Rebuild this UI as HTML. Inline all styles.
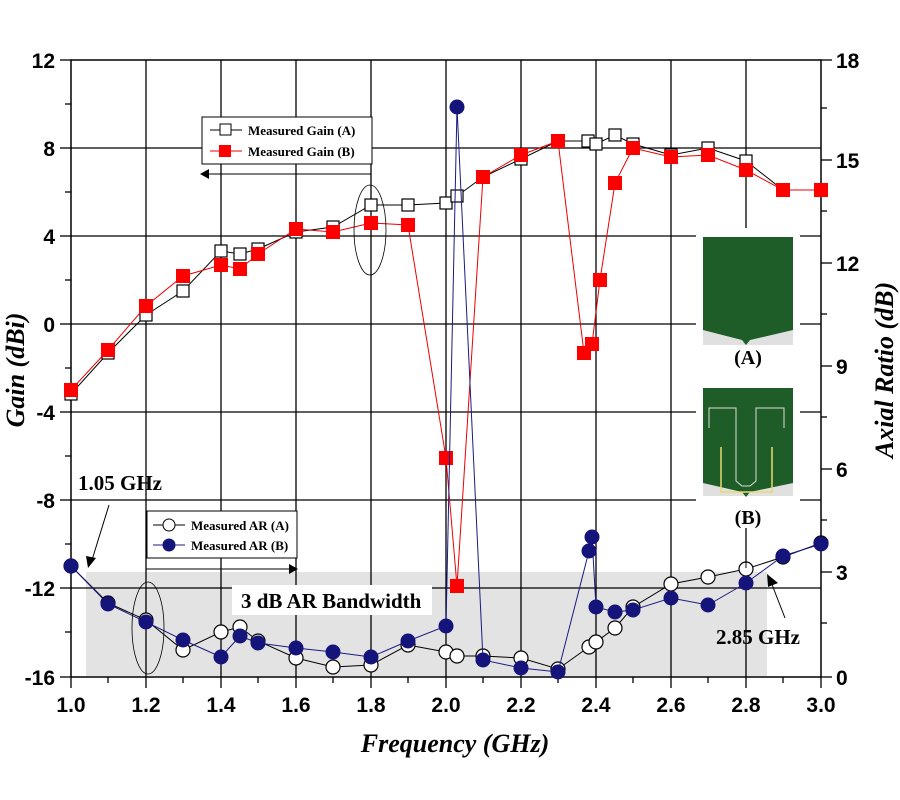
<!DOCTYPE html>
<html><head><meta charset="utf-8"><style>
html,body{margin:0;padding:0;background:#fff;}
svg{display:block;font-family:"Liberation Serif",serif;}
.t{font-family:"Liberation Sans",sans-serif;font-weight:bold;font-size:21px;}
</style></head><body>
<svg width="900" height="800" viewBox="0 0 900 800" xmlns="http://www.w3.org/2000/svg">
<rect x="86" y="572" width="681" height="104" fill="#e3e3e3"/>
<g stroke="#000" stroke-width="1.3">
<line x1="146" y1="60" x2="146" y2="677"/><line x1="221" y1="60" x2="221" y2="677"/><line x1="296" y1="60" x2="296" y2="677"/><line x1="371" y1="60" x2="371" y2="677"/><line x1="446" y1="60" x2="446" y2="677"/><line x1="521" y1="60" x2="521" y2="677"/><line x1="596" y1="60" x2="596" y2="677"/><line x1="671" y1="60" x2="671" y2="677"/><line x1="746" y1="60" x2="746" y2="677"/>
<line x1="71" y1="148" x2="821" y2="148"/><line x1="71" y1="236" x2="821" y2="236"/><line x1="71" y1="324" x2="821" y2="324"/><line x1="71" y1="412" x2="821" y2="412"/><line x1="71" y1="500" x2="821" y2="500"/><line x1="71" y1="588" x2="821" y2="588"/>
<rect x="71" y="60" width="750" height="617" fill="none" stroke-width="1.5"/>
</g>
<g stroke="#000" stroke-width="1.3">
<line x1="60" y1="60" x2="71" y2="60"/><line x1="60" y1="148" x2="71" y2="148"/><line x1="60" y1="236" x2="71" y2="236"/><line x1="60" y1="324" x2="71" y2="324"/><line x1="60" y1="412" x2="71" y2="412"/><line x1="60" y1="500" x2="71" y2="500"/><line x1="60" y1="588" x2="71" y2="588"/><line x1="60" y1="677" x2="71" y2="677"/>
<line x1="65" y1="104" x2="71" y2="104"/><line x1="65" y1="192" x2="71" y2="192"/><line x1="65" y1="280" x2="71" y2="280"/><line x1="65" y1="368" x2="71" y2="368"/><line x1="65" y1="456" x2="71" y2="456"/><line x1="65" y1="544" x2="71" y2="544"/><line x1="65" y1="632" x2="71" y2="632"/>
<line x1="821" y1="60" x2="832" y2="60"/><line x1="821" y1="160" x2="832" y2="160"/><line x1="821" y1="263" x2="832" y2="263"/><line x1="821" y1="366" x2="832" y2="366"/><line x1="821" y1="469" x2="832" y2="469"/><line x1="821" y1="572" x2="832" y2="572"/><line x1="821" y1="677" x2="832" y2="677"/>
<line x1="821" y1="108" x2="827" y2="108"/><line x1="821" y1="211" x2="827" y2="211"/><line x1="821" y1="314" x2="827" y2="314"/><line x1="821" y1="417" x2="827" y2="417"/><line x1="821" y1="520" x2="827" y2="520"/><line x1="821" y1="623" x2="827" y2="623"/>
<line x1="71" y1="677" x2="71" y2="688"/><line x1="146" y1="677" x2="146" y2="688"/><line x1="221" y1="677" x2="221" y2="688"/><line x1="296" y1="677" x2="296" y2="688"/><line x1="371" y1="677" x2="371" y2="688"/><line x1="446" y1="677" x2="446" y2="688"/><line x1="521" y1="677" x2="521" y2="688"/><line x1="596" y1="677" x2="596" y2="688"/><line x1="671" y1="677" x2="671" y2="688"/><line x1="746" y1="677" x2="746" y2="688"/><line x1="821" y1="677" x2="821" y2="688"/>
<line x1="108" y1="677" x2="108" y2="683"/><line x1="183" y1="677" x2="183" y2="683"/><line x1="258" y1="677" x2="258" y2="683"/><line x1="333" y1="677" x2="333" y2="683"/><line x1="408" y1="677" x2="408" y2="683"/><line x1="483" y1="677" x2="483" y2="683"/><line x1="558" y1="677" x2="558" y2="683"/><line x1="633" y1="677" x2="633" y2="683"/><line x1="708" y1="677" x2="708" y2="683"/><line x1="783" y1="677" x2="783" y2="683"/>
</g>
<g class="t" text-anchor="end">
<text x="55" y="68">12</text><text x="55" y="156">8</text><text x="55" y="244">4</text><text x="55" y="332">0</text><text x="55" y="420">-4</text><text x="55" y="508">-8</text><text x="55" y="596">-12</text><text x="55" y="685">-16</text>
</g>
<g class="t">
<text x="836" y="68">18</text><text x="836" y="168">15</text><text x="836" y="271">12</text><text x="836" y="374">9</text><text x="836" y="477">6</text><text x="836" y="580">3</text><text x="836" y="685">0</text>
</g>
<g class="t" text-anchor="middle">
<text x="71" y="712">1.0</text><text x="146" y="712">1.2</text><text x="221" y="712">1.4</text><text x="296" y="712">1.6</text><text x="371" y="712">1.8</text><text x="446" y="712">2.0</text><text x="521" y="712">2.2</text><text x="596" y="712">2.4</text><text x="671" y="712">2.6</text><text x="746" y="712">2.8</text><text x="821" y="712">3.0</text>
</g>
<text x="455" y="752" text-anchor="middle" font-size="26" font-weight="bold" font-style="italic">Frequency (GHz)</text>
<text transform="translate(24,370) rotate(-90)" text-anchor="middle" font-size="26" font-weight="bold" font-style="italic">Gain (dBi)</text>
<text transform="translate(893,370) rotate(-90)" text-anchor="middle" font-size="26" font-weight="bold" font-style="italic">Axial Ratio (dB)</text>

<!-- Gain A -->
<polyline fill="none" stroke="#000" stroke-width="1" points="71,394 108,353 146,315 183,291 221,251 240,254 258,249 296,232 333,227 371,205 408,205 446,203 457,196 483,177 521,159 558,141 588,141 596,144 615,135 633,144 671,155 708,148 746,161 783,190 821,190"/>
<g fill="#fff" stroke="#000" stroke-width="1.2">
<rect x="65" y="388" width="12" height="12"/><rect x="102" y="347" width="12" height="12"/><rect x="140" y="309" width="12" height="12"/><rect x="177" y="285" width="12" height="12"/><rect x="215" y="245" width="12" height="12"/><rect x="234" y="248" width="12" height="12"/><rect x="252" y="243" width="12" height="12"/><rect x="290" y="226" width="12" height="12"/><rect x="327" y="221" width="12" height="12"/><rect x="365" y="199" width="12" height="12"/><rect x="402" y="199" width="12" height="12"/><rect x="440" y="197" width="12" height="12"/><rect x="451" y="190" width="12" height="12"/><rect x="477" y="171" width="12" height="12"/><rect x="515" y="153" width="12" height="12"/><rect x="552" y="135" width="12" height="12"/><rect x="582" y="135" width="12" height="12"/><rect x="590" y="138" width="12" height="12"/><rect x="609" y="129" width="12" height="12"/><rect x="627" y="138" width="12" height="12"/><rect x="665" y="149" width="12" height="12"/><rect x="702" y="142" width="12" height="12"/><rect x="740" y="155" width="12" height="12"/><rect x="777" y="184" width="12" height="12"/><rect x="815" y="184" width="12" height="12"/>
</g>
<!-- Gain B -->
<polyline fill="none" stroke="#e00" stroke-width="1" points="71,390 108,350 146,306 183,276 221,265 240,269 258,254 296,229 333,232 371,223 408,225 446,458 457,586 483,177 521,155 558,141 584,353 592,344 600,280 615,183 633,148 671,157 708,155 746,170 783,190 821,190"/>
<g fill="#f00">
<rect x="64" y="383" width="14" height="14"/><rect x="101" y="343" width="14" height="14"/><rect x="139" y="299" width="14" height="14"/><rect x="176" y="269" width="14" height="14"/><rect x="214" y="258" width="14" height="14"/><rect x="233" y="262" width="14" height="14"/><rect x="251" y="247" width="14" height="14"/><rect x="289" y="222" width="14" height="14"/><rect x="326" y="225" width="14" height="14"/><rect x="364" y="216" width="14" height="14"/><rect x="401" y="218" width="14" height="14"/><rect x="439" y="451" width="14" height="14"/><rect x="450" y="579" width="14" height="14"/><rect x="476" y="170" width="14" height="14"/><rect x="514" y="148" width="14" height="14"/><rect x="551" y="134" width="14" height="14"/><rect x="577" y="346" width="14" height="14"/><rect x="585" y="337" width="14" height="14"/><rect x="593" y="273" width="14" height="14"/><rect x="608" y="176" width="14" height="14"/><rect x="626" y="141" width="14" height="14"/><rect x="664" y="150" width="14" height="14"/><rect x="701" y="148" width="14" height="14"/><rect x="739" y="163" width="14" height="14"/><rect x="776" y="183" width="14" height="14"/><rect x="814" y="183" width="14" height="14"/>
</g>
<!-- AR A -->
<polyline fill="none" stroke="#000" stroke-width="1" points="71,566 108,603 146,620 183,650 221,632 240,627 258,641 296,658 333,667 371,665 408,645 446,652 457,656 483,656 521,658 558,669 586,649 596,642 615,628 633,607 671,584 708,577 746,569 783,557 821,543"/>
<g fill="#fff" stroke="#000" stroke-width="1.2">
<circle cx="71" cy="566" r="7"/><circle cx="108" cy="603" r="7"/><circle cx="146" cy="620" r="7"/><circle cx="183" cy="650" r="7"/><circle cx="221" cy="632" r="7"/><circle cx="240" cy="627" r="7"/><circle cx="258" cy="641" r="7"/><circle cx="296" cy="658" r="7"/><circle cx="333" cy="667" r="7"/><circle cx="371" cy="665" r="7"/><circle cx="408" cy="645" r="7"/><circle cx="446" cy="652" r="7"/><circle cx="457" cy="656" r="7"/><circle cx="483" cy="656" r="7"/><circle cx="521" cy="658" r="7"/><circle cx="558" cy="669" r="7"/><circle cx="589" cy="647" r="7"/><circle cx="596" cy="642" r="7"/><circle cx="615" cy="628" r="7"/><circle cx="633" cy="607" r="7"/><circle cx="671" cy="584" r="7"/><circle cx="708" cy="577" r="7"/><circle cx="746" cy="569" r="7"/><circle cx="783" cy="557" r="7"/><circle cx="821" cy="543" r="7"/>
</g>
<!-- AR B -->
<polyline fill="none" stroke="#1a1a80" stroke-width="1" points="71,566 108,604 146,622 183,640 221,657 240,636 258,643 296,648 333,652 371,657 408,641 446,626 457,107 483,660 521,668 558,672 589,551 592,537 596,607 615,612 633,610 671,598 708,605 746,583 783,556 821,544"/>
<g fill="#14147a">
<circle cx="71" cy="566" r="7.5"/><circle cx="108" cy="604" r="7.5"/><circle cx="146" cy="622" r="7.5"/><circle cx="183" cy="640" r="7.5"/><circle cx="221" cy="657" r="7.5"/><circle cx="240" cy="636" r="7.5"/><circle cx="258" cy="643" r="7.5"/><circle cx="296" cy="648" r="7.5"/><circle cx="333" cy="652" r="7.5"/><circle cx="371" cy="657" r="7.5"/><circle cx="408" cy="641" r="7.5"/><circle cx="446" cy="626" r="7.5"/><circle cx="457" cy="107" r="7.5"/><circle cx="483" cy="660" r="7.5"/><circle cx="521" cy="668" r="7.5"/><circle cx="558" cy="672" r="7.5"/><circle cx="589" cy="551" r="7.5"/><circle cx="592" cy="537" r="7.5"/><circle cx="596" cy="607" r="7.5"/><circle cx="615" cy="612" r="7.5"/><circle cx="633" cy="610" r="7.5"/><circle cx="671" cy="598" r="7.5"/><circle cx="708" cy="605" r="7.5"/><circle cx="746" cy="583" r="7.5"/><circle cx="783" cy="556" r="7.5"/><circle cx="821" cy="544" r="7.5"/>
</g>

<!-- Gain legend -->
<rect x="202" y="117" width="170" height="47" fill="#fff" stroke="#000" stroke-width="1"/>
<line x1="210" y1="130" x2="242" y2="130" stroke="#000"/><rect x="220" y="124" width="11" height="11" fill="#fff" stroke="#000"/>
<line x1="210" y1="151" x2="242" y2="151" stroke="#e00"/><rect x="219" y="145" width="12" height="12" fill="#f00"/>
<text x="248" y="135" font-size="13" font-weight="bold">Measured Gain (A)</text>
<text x="248" y="156" font-size="13" font-weight="bold">Measured Gain (B)</text>
<line x1="206" y1="174" x2="371" y2="174" stroke="#000"/><polygon points="200,174 209,169 209,179" fill="#000"/>
<ellipse cx="370" cy="230" rx="16" ry="45" fill="none" stroke="#000" stroke-width="0.8"/>
<!-- AR legend -->
<rect x="147" y="511" width="150" height="47" fill="#fff" stroke="#000" stroke-width="1"/>
<line x1="153" y1="525" x2="185" y2="525" stroke="#000"/><circle cx="169" cy="525" r="6" fill="#fff" stroke="#000"/>
<line x1="153" y1="545" x2="185" y2="545" stroke="#1a1a80"/><circle cx="169" cy="545" r="6.5" fill="#14147a"/>
<text x="191" y="530" font-size="13" font-weight="bold">Measured AR (A)</text>
<text x="191" y="550" font-size="13" font-weight="bold">Measured AR (B)</text>
<line x1="146" y1="569" x2="292" y2="569" stroke="#000"/><polygon points="298,569 289,564 289,574" fill="#000"/>
<ellipse cx="148" cy="628" rx="16" ry="46" fill="none" stroke="#000" stroke-width="0.8"/>
<rect x="232" y="585" width="200" height="30" fill="#fff"/>
<text x="241" y="608" font-size="21" font-weight="bold">3 dB AR Bandwidth</text>
<text x="78" y="490" font-size="21" font-weight="bold">1.05 GHz</text>
<line x1="109" y1="505" x2="92" y2="560" stroke="#000"/><polygon points="88,568 86,556 96,558" fill="#000"/>
<text x="716" y="644" font-size="21" font-weight="bold">2.85 GHz</text>
<line x1="785" y1="618" x2="771" y2="582" stroke="#000"/><polygon points="767,574 778,583 768,587" fill="#000"/>
<!-- antenna insets -->
<rect x="696" y="228" width="104" height="300" fill="#fff"/>
<rect x="703" y="237" width="90" height="108" fill="#e0e0e0"/>
<polygon points="703,237 793,237 793,330 750,340 746,345 742,340 703,330" fill="#1e5c28"/>
<text x="748" y="364" text-anchor="middle" font-size="20" font-weight="bold">(A)</text>
<rect x="703" y="388" width="90" height="108" fill="#e0e0e0"/>
<polygon points="703,388 793,388 793,483 750,492 746,497 742,492 703,483" fill="#1e5c28"/>
<polyline fill="none" stroke="#ddd" stroke-width="1" points="709,428 709,408 736,408 736,481 742,486 750,486 756,481 756,408 784,408 784,428"/>
<polyline fill="none" stroke="#e8d870" stroke-width="1.5" points="721,447 721,492 772,492 772,447"/>
<text x="748" y="524" text-anchor="middle" font-size="20" font-weight="bold">(B)</text>
<line x1="746" y1="530" x2="746" y2="568" stroke="#000"/>
<line x1="746" y1="196" x2="746" y2="222" stroke="#000"/>
</svg>
</body></html>
